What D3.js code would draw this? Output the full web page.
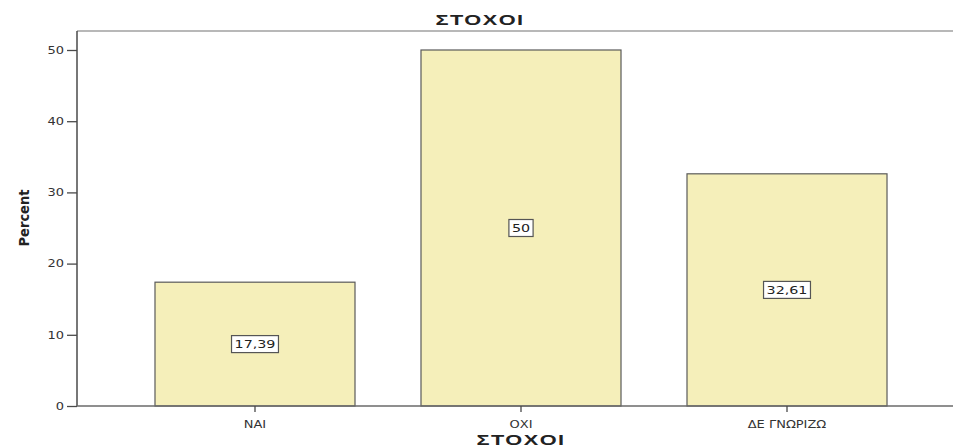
<!DOCTYPE html>
<html>
<head>
<meta charset="utf-8">
<script src="https://cdn.jsdelivr.net/npm/d3@7"></script>
<style>
  body { margin: 0; background: #fff; }
  svg { display: block; }
</style>
</head>
<body>
<svg id="chart" width="953" height="448"></svg>
<script>
// Goals survey: share of answers per category (percent)
const categories = ["ΝΑΙ", "ΟΧΙ", "ΔΕ ΓΝΩΡΙΖΩ"];
const percents = [17.39, 50, 32.61];
const valueLabels = ["17,39", "50", "32,61"];
const yTicks = [0, 10, 20, 30, 40, 50];

const svg = d3.select("#chart");
const W = 953;
const left = 77, right = 965, frameTop = 31, bottom = 406;
const stretch = 1.3; // wide lettering for axis/tag text

const y = d3.scaleLinear().domain([0, 50]).range([bottom, 50]);
const x = d3.scaleBand()
  .domain(categories)
  .range([left, right])
  .paddingInner(0.2481)
  .paddingOuter(0.2932);

const tickFont = "DejaVu Sans, Verdana, sans-serif";

// top frame line
svg.append("line")
  .attr("x1", left).attr("x2", W)
  .attr("y1", frameTop).attr("y2", frameTop)
  .attr("stroke", "#a0a0a0").attr("stroke-width", 1.5);

// bars
svg.append("g").selectAll("rect")
  .data(categories)
  .join("rect")
  .attr("x", d => x(d))
  .attr("y", (d, i) => y(percents[i]))
  .attr("width", x.bandwidth())
  .attr("height", (d, i) => y(0) - y(percents[i]))
  .attr("fill", "#f5efba")
  .attr("stroke", "#5a5a5a")
  .attr("stroke-width", 1.2);

// y axis
const yAxis = svg.append("g")
  .attr("transform", `translate(${left},0)`)
  .call(d3.axisLeft(y).tickValues(yTicks).tickSize(10).tickPadding(3));
yAxis.select(".domain").attr("d", `M0,${frameTop}V${bottom}`)
  .attr("stroke", "#4a4a4a").attr("stroke-width", 1.5);
yAxis.selectAll(".tick line").attr("stroke", "#4a4a4a").attr("stroke-width", 1.3);
yAxis.selectAll(".tick text")
  .attr("font-family", tickFont).attr("font-size", 10).attr("fill", "#333")
  .attr("x", -13 / stretch)
  .attr("transform", `scale(${stretch},1)`);

// x axis
const xAxis = svg.append("g")
  .attr("transform", `translate(0,${bottom})`)
  .call(d3.axisBottom(x).tickSize(6).tickPadding(9));
xAxis.select(".domain").attr("d", `M${left},0H${W}`)
  .attr("stroke", "#6a6a6a").attr("stroke-width", 1.5);
xAxis.selectAll(".tick line").attr("stroke", "#4a4a4a").attr("stroke-width", 1.3);
xAxis.selectAll(".tick text")
  .attr("font-family", tickFont).attr("font-size", 10).attr("fill", "#333")
  .attr("transform", `scale(${stretch},1)`);

// value labels in boxed tags at half bar height
const labels = svg.append("g").selectAll("g")
  .data(categories)
  .join("g")
  .attr("transform", (d, i) =>
    `translate(${x(d) + x.bandwidth() / 2},${y(percents[i] / 2)})`);
labels.append("text")
  .attr("text-anchor", "middle")
  .attr("dy", "0.36em")
  .attr("font-family", tickFont)
  .attr("font-size", 11)
  .attr("fill", "#222")
  .attr("transform", `scale(${stretch},1)`)
  .text((d, i) => valueLabels[i]);
labels.each(function () {
  const g = d3.select(this);
  const bb = g.select("text").node().getBBox();
  const w = bb.width * stretch;
  g.insert("rect", "text")
    .attr("x", -w / 2 - 3).attr("y", -8.5)
    .attr("width", w + 6).attr("height", 17)
    .attr("fill", "#fff").attr("stroke", "#555").attr("stroke-width", 1.2);
});

// titles
function wideTitle(tx, ty, label) {
  svg.append("g")
    .attr("transform", `translate(${tx},${ty}) scale(1.45,1)`)
    .append("text")
    .attr("text-anchor", "middle")
    .attr("font-family", "Liberation Sans, Arial, sans-serif")
    .attr("font-weight", "bold").attr("font-size", 15).attr("fill", "#222")
    .attr("letter-spacing", 1)
    .text(label);
}
wideTitle(480, 25, "ΣΤΟΧΟΙ");
wideTitle((left + right) / 2, 445, "ΣΤΟΧΟΙ");

svg.append("text")
  .attr("transform", "translate(29,218) rotate(-90)")
  .attr("text-anchor", "middle")
  .attr("font-family", "DejaVu Sans Condensed, Liberation Sans Narrow, sans-serif")
  .attr("font-stretch", "condensed")
  .attr("font-weight", "bold").attr("font-size", 14.5).attr("fill", "#222")
  .text("Percent");
</script>
</body>
</html>
